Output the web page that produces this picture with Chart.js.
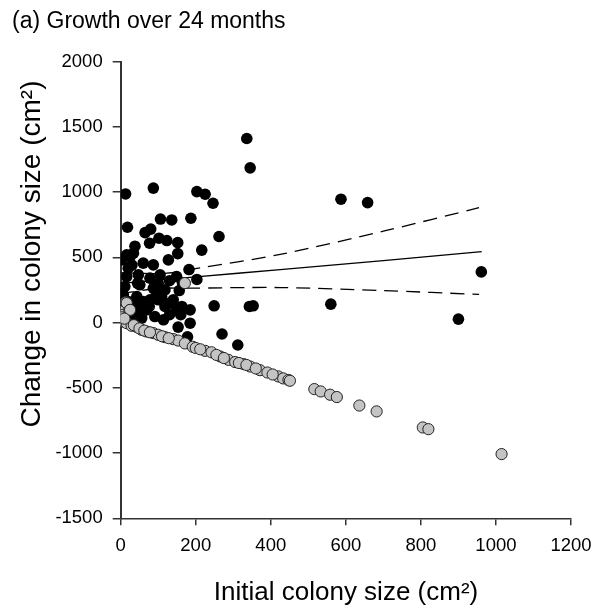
<!DOCTYPE html>
<html>
<head>
<meta charset="utf-8">
<script src="https://cdn.jsdelivr.net/npm/chart.js@4.4.0/dist/chart.umd.min.js"></script>
<style>
  html, body { margin: 0; padding: 0; background: #fff; }
  #wrap { width: 593px; height: 609px; position: relative; }
</style>
</head>
<body>
<div id="wrap"><canvas id="chart-1" width="593" height="609"></canvas></div>
<script>
// Colonies that grew / survived (black) - initial size vs change (cm2)
const grewX = [13, 87, 203, 225, 246, 336, 345, 18, 106, 136, 187, 65, 80, 38, 77, 102, 123, 152, 216, 262,
  25, 127, 152, 16, 34, 60, 87, 20, 16, 47, 78, 105, 149, 182, 203, 11, 51, 87, 118, 156,
  7, 43, 78, 109, 140, 118, 149, 185, 69, 91, 114, 56, 34, 249, 343, 353, 270, 312, 153, 185,
  178, 163, 131, 100, 76, 51, 5, 587, 658, 961, 560, 900, 3, 30, 45, 100, 130, 165, 95, 20,
  40, 130, 160, 60];
const grewY = [985, 1030, 1003, 983, 914, 1410, 1185, 730, 793, 786, 799, 689, 716, 585, 608, 646, 628, 612, 555, 659,
  505, 480, 528, 518, 531, 455, 442, 416, 352, 365, 340, 365, 352, 406, 330, 276, 289, 263, 250, 245,
  212, 199, 174, 199, 174, 123, 97, 97, 97, 46, 21, 34, 59, 128, 123, 128, -88, -172, -35, -5,
  -110, 123, 149, 174, 123, 97, 225, 945, 919, 388, 141, 26, 480, 440, 300, 300, 320, 300, 230, 160,
  140, 60, 60, 160];

// Colonies that shrank / died (grey)
const shrankX = [0, 3, 7, 14, 16, 23, 25, 0, 7, 16, 29, 43, 56, 69, 87, 100, 118, 140, 153, 171,
  192, 225, 242, 265, 287, 305, 327, 345, 371, 391, 420, 433, 447, 451, 516, 533, 558, 576, 636, 682,
  805, 820, 1015, 171, 2, 10, 35, 50, 63, 78, 110, 128, 200, 212, 255, 275, 315, 335, 360, 405];
const shrankY = [8, 84, 59, 156, 149, 92, 97, 21, 8, -5, -25, -35, -56, -69, -81, -94, -112, -127, -138, -160,
  -186, -217, -228, -260, -286, -303, -318, -337, -365, -383, -413, -428, -440, -446, -510, -528, -553, -571, -636, -681,
  -804, -817, -1008, 302, 40, 30, -20, -45, -62, -75, -105, -120, -195, -205, -248, -272, -310, -325, -352, -398];

// Regression fit and confidence bands
const fitX = [0, 200, 425, 700, 962];
const fitY = [300, 350, 405, 475, 544];
const upperX = [0, 123, 207, 425, 700, 955];
const upperY = [380, 378, 417, 522, 700, 880];
const lowerX = [0, 100, 176, 425, 700, 955];
const lowerY = [220, 262, 263, 268, 245, 215];

const xTicks = [0, 200, 400, 600, 800, 1000, 1200];
const yTicks = [-1500, -1000, -500, 0, 500, 1000, 1500, 2000];

function pts(xs, ys) {
    return xs.map((x, i) => ({ x: x, y: ys[i] }));
}

const FONT = "'Liberation Sans', Arial, sans-serif";
const AXIS = '#333333';

// titles drawn by hand so they sit where the original has them
const textPlugin = {
    id: 'texts',
    afterDraw(chart) {
        const ctx = chart.ctx;
        ctx.save();
        ctx.fillStyle = '#000';
        ctx.font = '23px ' + FONT;
        ctx.textAlign = 'left';
        ctx.textBaseline = 'alphabetic';
        ctx.fillText('(a) Growth over 24 months', 12, 28);

        ctx.font = '26px ' + FONT;
        ctx.textAlign = 'center';
        ctx.fillText('Initial colony size (cm\u00B2)', 346, 600);

        ctx.translate(32, 254);
        ctx.rotate(-Math.PI / 2);
        ctx.font = '28px ' + FONT;
        ctx.textBaseline = 'middle';
        ctx.fillText('Change in colony size (cm\u00B2)', 0, 0);
        ctx.restore();
    }
};

const lineStyle = { borderColor: '#000', borderWidth: 1.3, pointRadius: 0, showLine: true, fill: false, tension: 0.3 };

new Chart(document.getElementById('chart-1').getContext('2d'), {
    type: 'scatter',
    data: {
        datasets: [
            { label: 'Shrank', data: pts(shrankX, shrankY), order: 0,
              pointRadius: 5.6, backgroundColor: '#c4c4c4', borderColor: '#222', borderWidth: 1 },
            { label: 'Grew', data: pts(grewX, grewY), order: 1,
              pointRadius: 5.8, backgroundColor: '#000', borderColor: '#000', borderWidth: 0 },
            Object.assign({ label: 'Fit', data: pts(fitX, fitY), order: 2 }, lineStyle),
            Object.assign({ label: 'Upper', data: pts(upperX, upperY), order: 2, borderDash: [14, 8] }, lineStyle),
            Object.assign({ label: 'Lower', data: pts(lowerX, lowerY), order: 2, borderDash: [14, 8] }, lineStyle)
        ]
    },
    options: {
        responsive: false,
        animation: false,
        layout: { padding: { left: 0, right: 0, top: 61.5, bottom: 0 } },
        plugins: { legend: { display: false }, tooltip: { enabled: false } },
        scales: {
            x: {
                type: 'linear', min: 0, max: 1200,
                afterBuildTicks: s => { s.ticks = xTicks.map(v => ({ value: v })); },
                afterFit: s => { s.height = 90.7; s.paddingLeft = 0; s.paddingRight = 22; },
                grid: { drawOnChartArea: false, drawTicks: true, tickLength: 7, color: AXIS, lineWidth: 1.5 },
                border: { display: true, color: AXIS, width: 1.5 },
                ticks: { color: '#000', font: { family: FONT, size: 18.5 }, padding: 10, maxRotation: 0,
                         callback: v => String(v) }
            },
            y: {
                type: 'linear', min: -1500, max: 2000,
                afterBuildTicks: s => { s.ticks = yTicks.map(v => ({ value: v })); },
                afterFit: s => { s.width = 120.7; s.paddingTop = 0; s.paddingBottom = 0; },
                grid: { drawOnChartArea: false, drawTicks: true, tickLength: 8, color: AXIS, lineWidth: 1.5 },
                border: { display: true, color: AXIS, width: 2 },
                ticks: { color: '#000', font: { family: FONT, size: 18.5 }, padding: 10,
                         callback: v => String(v) }
            }
        }
    },
    plugins: [textPlugin]
});
</script>
</body>
</html>
